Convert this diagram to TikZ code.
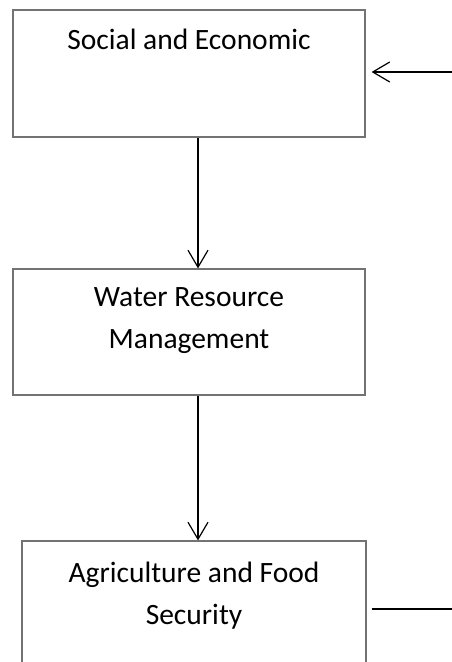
\documentclass[tikz,border=0pt]{standalone}
\usepackage{fontspec}
\setmainfont{Carlito}
\usetikzlibrary{arrows.meta}
\tikzset{
  block/.style={draw=black!55, line width=1.2pt, minimum width=352pt, inner sep=0pt},
  caption/.style={font=\fontsize{29.5}{42}\selectfont, align=center, inner sep=0pt},
  flow/.style={line width=1.2pt, -{Straight Barb[length=17pt,width=20pt,line width=1.2pt]}}
}
\begin{document}
\begin{tikzpicture}[x=1pt,y=1pt]

        % Page frame
        \useasboundingbox (0,0) rectangle (452,662);

        % Define the three blocks
        \node[block, minimum height=127pt] (soc) at (189,588.5) {};
        \node[block, minimum height=126pt] (water) at (189,330) {};
        \node[block, minimum width=344pt, minimum height=140pt] (agri) at (194,51) {};

        % Block texts
        \node[caption, anchor=center] (soctext) at ([yshift=-30pt]soc.north) {Social and Economic};
        \node[caption, anchor=north] (watertext) at ([yshift=-19pt]water.north) {Water Resource\\Management};
        \node[caption, anchor=north] (agritext) at ([yshift=-21pt]agri.north) {Agriculture and Food\\Security};

        % Free ends at the right border
        \coordinate (inR) at (452,590);
        \coordinate (outR) at (452,53);

        % Draw connectors
        \draw[flow] (inR) -- ([xshift=6pt]soc.east |- inR);
        \draw[flow] (soc.south -| 198,0) -- (water.north -| 198,0);
        \draw[flow] (water.south -| 198,0) -- (agri.north -| 198,0);
        \draw[line width=1.2pt] ([xshift=5pt]agri.east |- outR) -- (outR);

    \end{tikzpicture}
\end{document}
